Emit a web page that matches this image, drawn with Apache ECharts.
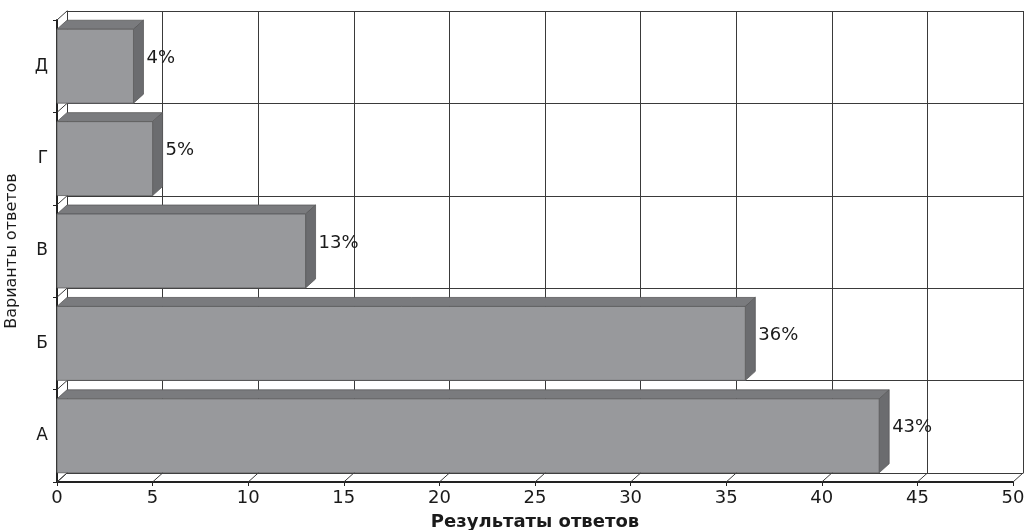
<!DOCTYPE html>
<html><head><meta charset="utf-8">
<script src="https://cdn.jsdelivr.net/npm/echarts@6/dist/echarts.min.js"></script>
<style>html,body{margin:0;padding:0;background:#fff}#c{width:1028px;height:530px}</style>
</head><body><div id="c"></div>
<script>
const categories = ['А', 'Б', 'В', 'Г', 'Д'];
const values = [43, 36, 13, 5, 4];
const xMin = 0, xMax = 50, xStep = 5;
const xTitle = 'Результаты ответов';
const yTitle = 'Варианты ответов';

const DX = 10, DY = 9;
const FONT = '"DejaVu Sans", "Liberation Sans", Arial, sans-serif';
const LINE = '#3a3a3a';
const TXT = '#1a1a1a';

const xTickValues = [];
for (let t = xMin; t <= xMax; t += xStep) xTickValues.push(t);
const boundaryIdx = [];
for (let i = 0; i <= categories.length; i++) boundaryIdx.push(i);

const chart = echarts.init(document.getElementById('c'));

function barItem(params, api) {
  const v = api.value(0), cat = api.value(1);
  const p0 = api.coord([0, cat]);
  const p1 = api.coord([v, cat]);
  const band = api.size([0, 1])[1];
  const h = band * 0.8;
  const x0 = p0[0], x1 = p1[0];
  const yT = p0[1] - h / 2, yB = p0[1] + h / 2;
  const edge = { stroke: '#5a5a5c', lineWidth: 0.8 };
  return {
    type: 'group',
    children: [
      { type: 'polygon', shape: { points: [[x0, yT], [x0 + DX, yT - DY], [x1 + DX, yT - DY], [x1, yT]] },
        style: Object.assign({ fill: '#7a7b7e' }, edge) },
      { type: 'polygon', shape: { points: [[x1, yT], [x1 + DX, yT - DY], [x1 + DX, yB - DY], [x1, yB]] },
        style: Object.assign({ fill: '#6b6c6f' }, edge) },
      { type: 'rect', shape: { x: x0, y: yT, width: x1 - x0, height: yB - yT },
        style: Object.assign({ fill: '#98999c' }, edge) },
      { type: 'text', x: x1 + DX + 3, y: p0[1] - 8,
        style: { text: v + '%', fill: TXT, font: '18px ' + FONT, textVerticalAlign: 'middle', textAlign: 'left' } }
    ]
  };
}

function floorItem(params, api) {
  const cs = params.coordSys;
  const v = api.value(0);
  const x = api.coord([v, 0])[0];
  const y = cs.y + cs.height;
  return { type: 'line', shape: { x1: x, y1: y, x2: x + DX, y2: y - DY }, style: { stroke: LINE, lineWidth: 1 } };
}

function wallItem(params, api) {
  const cs = params.coordSys;
  const i = api.value(0);
  const y = cs.y + cs.height - i * cs.height / categories.length;
  return { type: 'line', shape: { x1: cs.x, y1: y, x2: cs.x + DX, y2: y - DY }, style: { stroke: LINE, lineWidth: 1 } };
}

const L = 57, R = 15, T = 20, B = 48;

chart.setOption({
  animation: false,
  backgroundColor: '#fff',
  grid: [
    { left: L + DX, right: R - DX, top: T - DY, bottom: B + DY, containLabel: false, outerBoundsMode: 'none' },
    { left: L, right: R, top: T, bottom: B, containLabel: false, outerBoundsMode: 'none' }
  ],
  xAxis: [
    { gridIndex: 0, type: 'value', min: xMin, max: xMax, interval: xStep,
      axisLine: { show: true, lineStyle: { color: LINE, width: 1 } }, axisTick: { show: false }, axisLabel: { show: false },
      splitLine: { show: true, lineStyle: { color: LINE, width: 1 } } },
    { gridIndex: 1, type: 'value', min: xMin, max: xMax, interval: xStep,
      axisLine: { show: true, lineStyle: { color: '#222', width: 2 } },
      axisTick: { show: true, length: 4, lineStyle: { color: '#222' } },
      axisLabel: { color: TXT, fontSize: 18, fontFamily: FONT, margin: 7 },
      splitLine: { show: false },
      name: xTitle, nameLocation: 'middle', nameGap: 31,
      nameTextStyle: { color: TXT, fontSize: 18, fontWeight: 'bold', fontFamily: FONT } }
  ],
  yAxis: [
    { gridIndex: 0, type: 'category', data: categories,
      axisLine: { show: true, lineStyle: { color: LINE, width: 1 } }, axisTick: { show: false }, axisLabel: { show: false },
      splitLine: { show: true, lineStyle: { color: LINE, width: 1 } } },
    { gridIndex: 1, type: 'category', data: categories,
      axisLine: { show: true, lineStyle: { color: '#222', width: 2 } },
      axisTick: { show: true, length: 4, lineStyle: { color: '#222' } },
      axisLabel: { color: TXT, fontSize: 17, fontFamily: FONT, margin: 9 },
      splitLine: { show: false },
      name: yTitle, nameLocation: 'middle', nameGap: 37, nameRotate: 90,
      nameTextStyle: { color: TXT, fontSize: 16, fontFamily: FONT } }
  ],
  series: [
    { type: 'custom', xAxisIndex: 1, yAxisIndex: 1, renderItem: floorItem,
      data: xTickValues.map(v => [v]), encode: { x: 0 }, silent: true, z: 1 },
    { type: 'custom', xAxisIndex: 1, yAxisIndex: 1, renderItem: wallItem,
      data: boundaryIdx.map(i => [i]), encode: { y: 0 }, silent: true, z: 1 },
    { type: 'custom', xAxisIndex: 1, yAxisIndex: 1, renderItem: barItem,
      data: values.map((v, i) => [v, i]), encode: { x: 0, y: 1 }, z: 5 }
  ]
});
</script></body></html>
